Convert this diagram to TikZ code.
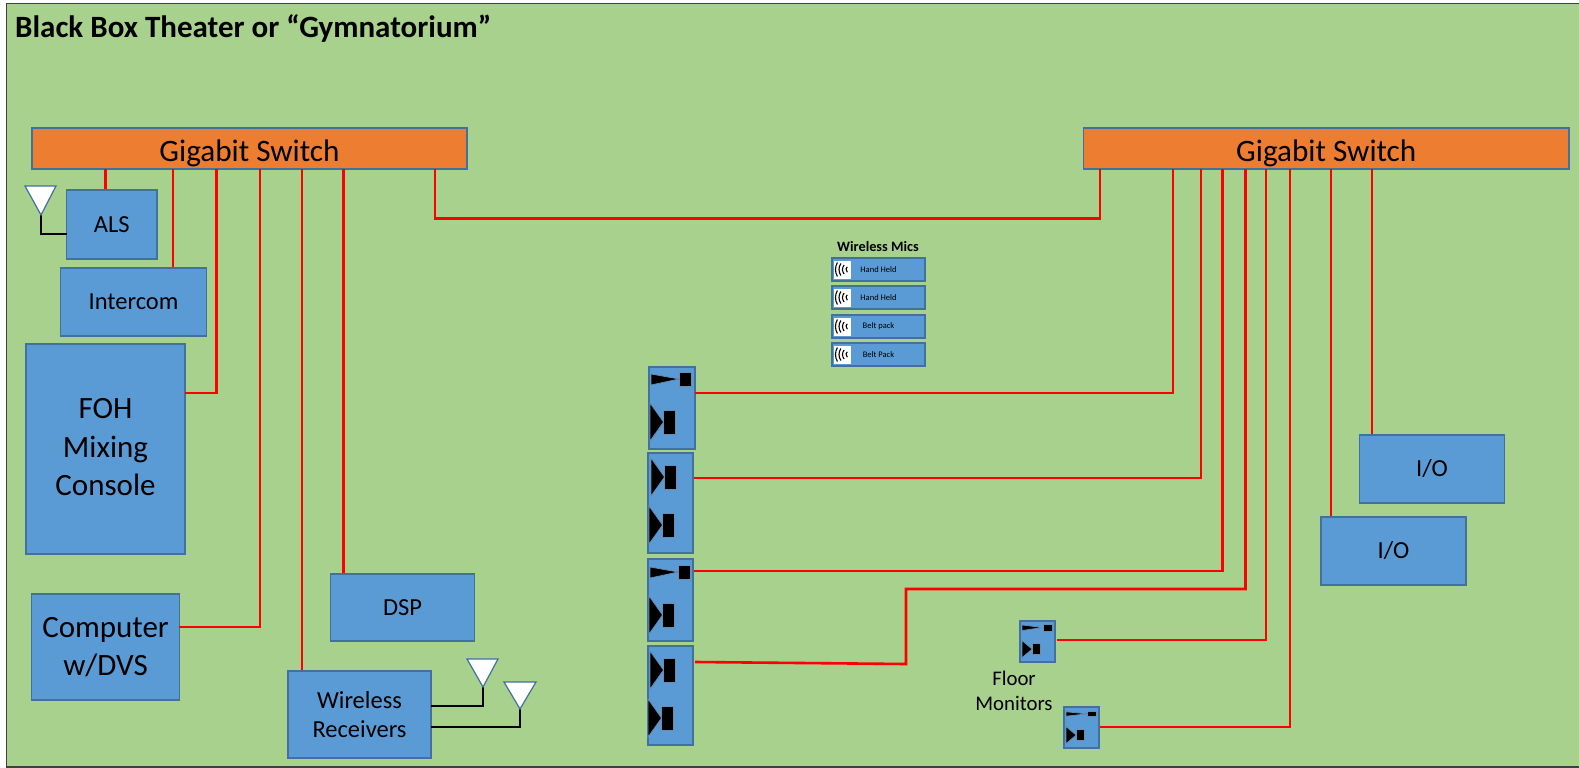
\documentclass[tikz,border=0pt]{standalone}
\usepackage{fontspec}
\setmainfont{Carlito}
\definecolor{roomgreen}{HTML}{A9D18E}
\definecolor{boxblue}{HTML}{5B9BD5}
\definecolor{boxedge}{HTML}{41719C}
\definecolor{switchorange}{HTML}{ED7D31}

\begin{document}
\begin{tikzpicture}[line cap=butt,line join=miter,x=1pt,y=-1pt,
    blue box/.style={rectangle, draw=boxedge, fill=boxblue, line width=1.4pt, inner sep=0pt, align=center},
    switch/.style={rectangle, draw=boxedge, fill=switchorange, line width=1.4pt, inner sep=0pt, minimum height=41pt, text height=25pt, text depth=0pt, font=\fontsize{31.2}{37}\selectfont},
    mic/.style={blue box, minimum width=93pt, minimum height=23pt, font=\fontsize{8.5}{10}\selectfont},
    wire/.style={draw=red, line width=2.6pt},
    blackwire/.style={draw=black, line width=2.6pt},
    antenna/.style={draw=boxedge, fill=white, line width=1.2pt},
    cone/.style={fill=black, draw=boxedge!80, line width=.7pt},
    medium/.style={font=\fontsize{24.5}{29}\selectfont},
    big/.style={font=\fontsize{31}{38.5}\selectfont},
    hispk/.pic={
        \draw[cone] (0,2) -- (0,13) -- (28,7) -- cycle;
        \draw[cone] (28,0) rectangle (40,14);
    },
    lospk/.pic={
        \draw[cone] (0,-1) -- (0,37) -- (13.5,18) -- cycle;
        \draw[cone] (13.5,6) rectangle (25,30);
    },
    micicon/.pic={
        \fill[white] (0,0) rectangle (17,18);
        \draw[line width=1.1pt] (15.5,9) +(150:14) arc[start angle=150, end angle=210, radius=14];
        \draw[line width=1.1pt] (15.5,9) +(145:10.5) arc[start angle=145, end angle=215, radius=10.5];
        \draw[line width=1.1pt] (15.5,9) +(140:7) arc[start angle=140, end angle=220, radius=7];
        \draw[line width=1.1pt] (15.5,9) +(130:3.5) arc[start angle=130, end angle=230, radius=3.5];
    }]
    \useasboundingbox (0,0) rectangle (1579,768);
    \fill[white] (0,0) rectangle (1579,768);
    \fill[roomgreen] (7,4) rectangle (1579,767);
    \draw[black!75, line width=1.4pt] (1579,3.5) -- (6.7,3.5) -- (6.7,767) -- (1579,767);

    \node[anchor=west, inner sep=0pt, font=\bfseries\fontsize{31}{36}\selectfont] (title) at (15,28) {Black Box Theater or “Gymnatorium”};

    \node[switch, minimum width=435pt] (lswitch) at (249.5,148.5) {Gigabit Switch};
    \node[switch, minimum width=485.5pt] (rswitch) at (1326.25,148.5) {Gigabit Switch};

    \node[blue box, medium, minimum width=90.5pt, minimum height=69pt] (als) at (111.75,224.5) {ALS};
    \node[blue box, medium, minimum width=146pt, minimum height=68pt] (intercom) at (133.5,302) {Intercom};
    \node[blue box, big, text depth=4pt, minimum width=159pt, minimum height=210pt] (foh) at (105.5,449) {FOH\\Mixing\\Console};
    \node[blue box, big, minimum width=147.5pt, minimum height=106pt] (computer) at (105.5,647) {Computer\\w/DVS};
    \node[blue box, medium, minimum width=143.5pt, minimum height=67pt] (dsp) at (402.5,607.5) {DSP};
    \node[blue box, medium, minimum width=143pt, minimum height=87pt] (receivers) at (359.5,714.5) {Wireless\\Receivers};
    \node[blue box, medium, minimum width=144.5pt, minimum height=68pt] (io1) at (1432,469) {I/O};
    \node[blue box, medium, minimum width=145pt, minimum height=68pt] (io2) at (1393.5,551) {I/O};

    % wireless mics
    \node[font=\bfseries\fontsize{14.3}{17}\selectfont] (mics) at (878,247) {Wireless Mics};
    \node[mic] (mic1) at (878.5,269.5) {Hand Held};
    \node[mic] (mic2) at (878.5,297.5) {Hand Held};
    \node[mic] (mic3) at (878.5,326.5) {Belt pack};
    \node[mic] (mic4) at (878.5,354.5) {Belt Pack};
    \pic at (834,260.5) {micicon};
    \pic at (834,288.5) {micicon};
    \pic at (834,317.5) {micicon};
    \pic at (834,345.5) {micicon};

    % speakers
    \node[blue box, minimum width=46pt, minimum height=82pt] (spk1) at (672,408) {};
    \node[blue box, minimum width=45pt, minimum height=100pt] (spk2) at (670.5,503) {};
    \node[blue box, minimum width=45pt, minimum height=82pt] (spk3) at (670.5,600) {};
    \node[blue box, minimum width=45pt, minimum height=99pt] (spk4) at (670.5,695.5) {};
    \pic at (651,372) {hispk};
    \pic at (650,404) {lospk};
    \pic at (651,459) {lospk};
    \pic at (649,507) {lospk};
    \pic at (650,565) {hispk};
    \pic at (649,597) {lospk};
    \pic at (650,652) {lospk};
    \pic at (648,700) {lospk};

    \node[blue box, minimum width=35pt, minimum height=41pt] (mon1) at (1037.5,641.5) {};
    \node[blue box, minimum width=35pt, minimum height=41pt] (mon2) at (1081.5,727.5) {};
    \pic[xscale=.75, yscale=.5] at (1022,624) {hispk};
    \pic[xscale=.75, yscale=.45] at (1022,641) {lospk};
    \pic[xscale=.75, yscale=.4] at (1066,711) {hispk};
    \pic[xscale=.75, yscale=.45] at (1066,727) {lospk};
    \node[align=center, font=\fontsize{20.8}{25}\selectfont] (monlabel) at (1014,690.5) {Floor\\Monitors};

    % taps on the switches
    \coordinate (l1) at (105.5,169);
    \coordinate (l2) at (173,169);
    \coordinate (l3) at (216.7,169);
    \coordinate (l4) at (260,169);
    \coordinate (l5) at (302,169);
    \coordinate (l6) at (343.5,169);
    \coordinate (l7) at (435,169);
    \coordinate (r0) at (1100,169);
    \coordinate (r1) at (1173,169);
    \coordinate (r2) at (1201,169);
    \coordinate (r3) at (1222.5,169);
    \coordinate (r4) at (1245.5,169);
    \coordinate (r5) at (1266,169);
    \coordinate (r6) at (1290,169);
    \coordinate (r7) at (1331,169);
    \coordinate (r8) at (1372,169);

    \coordinate (fohp) at (185,393);
    \coordinate (compp) at (179,627);
    \coordinate (spk1p) at (695,393);
    \coordinate (spk2p) at (694,478);
    \coordinate (spk3p) at (694,571);
    \coordinate (spk4p) at (695,662);
    \coordinate (bendb) at (906,664);
    \coordinate (bendt) at (906,589);
    \coordinate (mon1p) at (1057,640);
    \coordinate (mon2p) at (1100,727);
    \coordinate (midl) at (435,218.5);

    \draw[wire] (l1) -- (l1 |- als.north);
    \draw[wire] (l2) -- (l2 |- intercom.north);
    \draw[wire] (l3) |- (fohp);
    \draw[wire] (l4) |- (compp);
    \draw[wire] (l5) -- (l5 |- receivers.north);
    \draw[wire] (l6) -- (l6 |- dsp.north);
    \draw[wire] (l7) |- (r0 |- midl) -- (r0);
    \draw[wire] (r1) |- (spk1p);
    \draw[wire] (r2) |- (spk2p);
    \draw[wire] (r3) |- (spk3p);
    \draw[wire] (spk4p) -- (bendb) -- (bendt) -| (r4);
    \draw[wire] (r5) |- (mon1p);
    \draw[wire] (r6) |- (mon2p);
    \draw[wire] (r7) -- (r7 |- io2.north);
    \draw[wire] (r8) -- (r8 |- io1.north);

    % antennas
    \coordinate (ant1) at (41,215);
    \coordinate (ant2) at (483,687);
    \coordinate (ant3) at (520,709);
    \coordinate (alsp) at (66.5,234);
    \coordinate (recvp1) at (431,706);
    \coordinate (recvp2) at (431,727);
    \draw[blackwire] (ant1) |- (alsp);
    \draw[blackwire] (ant2) |- (recvp1);
    \draw[blackwire] (ant3) |- (recvp2);
    \draw[antenna] (25,186) -- (56,186) -- (ant1) -- cycle;
    \draw[antenna] (467,659) -- (498,659) -- (ant2) -- cycle;
    \draw[antenna] (504,682) -- (536,682) -- (ant3) -- cycle;
\end{tikzpicture}
\end{document}
